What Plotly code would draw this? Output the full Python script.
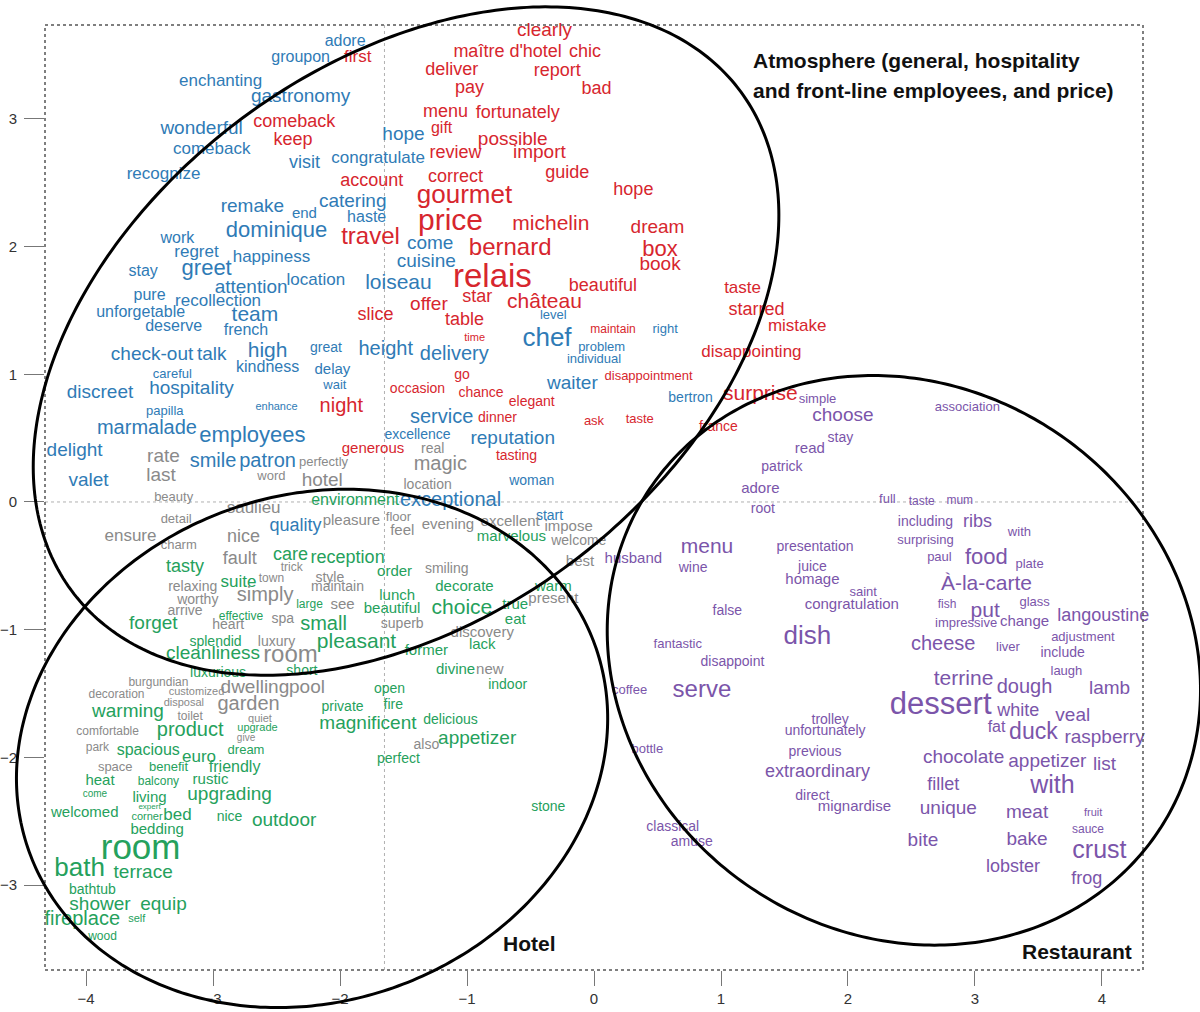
import numpy as np
import plotly.graph_objects as go

# ---------------- data (word, x, y, weight) ----------------
blue_terms = [
    ("adore", -1.96, 3.60, 16), ("groupon", -2.31, 3.48, 16), ("enchanting", -2.94, 3.29, 17),
    ("gastronomy", -2.31, 3.17, 19), ("wonderful", -3.09, 2.92, 19), ("comeback", -3.01, 2.76, 17),
    ("visit", -2.28, 2.65, 18), ("recognize", -3.39, 2.56, 17), ("hope", -1.50, 2.87, 19),
    ("congratulate", -1.70, 2.69, 17), ("remake", -2.69, 2.31, 19), ("end", -2.28, 2.25, 15),
    ("catering", -1.90, 2.35, 19), ("haste", -1.79, 2.22, 16), ("dominique", -2.50, 2.12, 22),
    ("work", -3.28, 2.06, 16), ("regret", -3.13, 1.95, 17), ("happiness", -2.54, 1.91, 17),
    ("come", -1.29, 2.02, 19), ("cuisine", -1.32, 1.88, 19), ("stay", -3.55, 1.80, 16),
    ("greet", -3.05, 1.82, 22), ("location", -2.19, 1.73, 17), ("loiseau", -1.54, 1.71, 21),
    ("attention", -2.70, 1.67, 19), ("pure", -3.50, 1.61, 16), ("recollection", -2.96, 1.57, 17),
    ("unforgetable", -3.57, 1.48, 16), ("team", -2.67, 1.46, 21), ("deserve", -3.31, 1.37, 16),
    ("french", -2.74, 1.34, 16), ("level", -0.32, 1.46, 13), ("right", 0.56, 1.35, 13),
    ("chef", -0.37, 1.27, 26), ("problem", 0.06, 1.21, 13), ("individual", 0.00, 1.11, 13),
    ("check-out", -3.48, 1.15, 19), ("talk", -3.01, 1.15, 19), ("high", -2.57, 1.18, 21),
    ("kindness", -2.57, 1.05, 16), ("great", -2.11, 1.20, 14), ("height", -1.64, 1.19, 20),
    ("delivery", -1.10, 1.15, 20), ("careful", -3.32, 1.00, 13), ("delay", -2.06, 1.03, 15),
    ("wait", -2.04, 0.91, 13), ("waiter", -0.17, 0.92, 19), ("discreet", -3.89, 0.85, 19),
    ("hospitality", -3.17, 0.88, 19), ("papilla", -3.38, 0.71, 13), ("enhance", -2.50, 0.74, 11),
    ("bertron", 0.76, 0.81, 14), ("marmalade", -3.52, 0.57, 20), ("employees", -2.69, 0.51, 22),
    ("service", -1.20, 0.66, 20), ("excellence", -1.39, 0.52, 14), ("reputation", -0.64, 0.49, 19),
    ("delight", -4.09, 0.40, 19), ("smile", -3.00, 0.31, 20), ("patron", -2.57, 0.31, 20),
    ("valet", -3.98, 0.16, 19), ("woman", -0.49, 0.16, 14), ("exceptional", -1.13, 0.01, 20),
    ("quality", -2.35, -0.19, 18), ("start", -0.35, -0.11, 14),
]

red_terms = [
    ("first", -1.86, 3.48, 17), ("clearly", -0.39, 3.69, 19), ("maître d'hotel", -0.68, 3.52, 18),
    ("chic", -0.07, 3.52, 18), ("deliver", -1.12, 3.38, 18), ("report", -0.29, 3.37, 18),
    ("pay", -0.98, 3.24, 18), ("bad", 0.02, 3.23, 18), ("menu", -1.17, 3.05, 18),
    ("fortunately", -0.60, 3.04, 18), ("comeback", -2.36, 2.97, 18), ("keep", -2.37, 2.83, 18),
    ("gift", -1.20, 2.92, 16), ("possible", -0.64, 2.83, 19), ("import", -0.43, 2.73, 19),
    ("review", -1.09, 2.73, 18), ("account", -1.75, 2.51, 18), ("correct", -1.09, 2.54, 18),
    ("guide", -0.21, 2.57, 18), ("hope", 0.31, 2.44, 18), ("gourmet", -1.02, 2.39, 26),
    ("price", -1.13, 2.19, 30), ("michelin", -0.34, 2.17, 21), ("travel", -1.76, 2.07, 24),
    ("bernard", -0.66, 1.98, 24), ("dream", 0.50, 2.14, 19), ("box", 0.52, 1.97, 22),
    ("book", 0.52, 1.85, 19), ("relais", -0.80, 1.75, 33), ("beautiful", 0.07, 1.69, 18),
    ("taste", 1.17, 1.67, 17), ("star", -0.92, 1.60, 18), ("offer", -1.30, 1.54, 19),
    ("château", -0.39, 1.56, 21), ("starred", 1.28, 1.50, 18), ("slice", -1.72, 1.46, 18),
    ("table", -1.02, 1.42, 18), ("maintain", 0.15, 1.35, 12), ("mistake", 1.60, 1.37, 17),
    ("time", -0.94, 1.28, 11), ("disappointing", 1.24, 1.17, 17), ("go", -1.04, 0.99, 14),
    ("occasion", -1.39, 0.88, 14), ("chance", -0.89, 0.85, 14), ("disappointment", 0.43, 0.98, 13),
    ("elegant", -0.49, 0.78, 14), ("night", -1.99, 0.74, 20), ("surprise", 1.31, 0.84, 21),
    ("dinner", -0.76, 0.65, 14), ("ask", 0.00, 0.63, 13), ("taste", 0.36, 0.64, 13),
    ("france", 0.98, 0.58, 14), ("generous", -1.74, 0.41, 15), ("tasting", -0.61, 0.36, 14),
]

gray_terms = [
    ("rate", -3.39, 0.35, 19), ("last", -3.41, 0.20, 19), ("perfectly", -2.13, 0.31, 13),
    ("word", -2.54, 0.20, 13), ("hotel", -2.14, 0.16, 19), ("real", -1.27, 0.41, 14),
    ("magic", -1.21, 0.29, 20), ("location", -1.31, 0.13, 14), ("beauty", -3.31, 0.03, 13),
    ("saulieu", -2.68, -0.05, 17), ("detail", -3.29, -0.14, 13), ("ensure", -3.65, -0.27, 17),
    ("charm", -3.27, -0.34, 13), ("nice", -2.76, -0.28, 18), ("fault", -2.79, -0.45, 18),
    ("trick", -2.38, -0.52, 12), ("relaxing", -3.16, -0.67, 14), ("town", -2.54, -0.60, 12),
    ("simply", -2.59, -0.74, 20), ("worthy", -3.12, -0.77, 14), ("arrive", -3.22, -0.86, 14),
    ("spa", -2.45, -0.92, 14), ("heart", -2.88, -0.97, 14), ("luxury", -2.50, -1.10, 14),
    ("room", -2.39, -1.21, 24), ("pleasure", -1.91, -0.15, 15), ("floor", -1.54, -0.12, 13),
    ("feel", -1.51, -0.23, 15), ("evening", -1.15, -0.18, 15), ("excellent", -0.66, -0.16, 15),
    ("impose", -0.20, -0.20, 15), ("welcome", -0.12, -0.31, 14), ("best", -0.11, -0.47, 15),
    ("smiling", -1.16, -0.53, 14), ("style", -2.08, -0.60, 14), ("maintain", -2.02, -0.67, 14),
    ("present", -0.32, -0.76, 15), ("see", -1.98, -0.81, 15), ("superb", -1.51, -0.96, 14),
    ("discovery", -0.88, -1.03, 15), ("new", -0.82, -1.32, 15), ("burgundian", -3.43, -1.42, 12),
    ("customized", -3.13, -1.49, 11), ("dwelling", -2.67, -1.46, 19), ("pool", -2.26, -1.46, 19),
    ("decoration", -3.76, -1.51, 12), ("disposal", -3.23, -1.58, 11), ("garden", -2.72, -1.59, 20),
    ("toilet", -3.18, -1.68, 12), ("quiet", -2.63, -1.70, 11), ("comfortable", -3.83, -1.80, 12),
    ("give", -2.74, -1.85, 10), ("park", -3.91, -1.93, 12), ("space", -3.77, -2.08, 13),
    ("also", -1.32, -1.91, 14),
]

green_terms = [
    ("environment", -1.88, 0.01, 16), ("care", -2.39, -0.42, 18), ("tasty", -3.22, -0.51, 18),
    ("suite", -2.80, -0.63, 17), ("reception", -1.94, -0.44, 18), ("marvelous", -0.65, -0.28, 15),
    ("order", -1.57, -0.55, 15), ("decorate", -1.02, -0.67, 15), ("warm", -0.32, -0.67, 15),
    ("effective", -2.78, -0.90, 12), ("large", -2.24, -0.81, 12), ("lunch", -1.55, -0.74, 15),
    ("beautiful", -1.59, -0.84, 15), ("choice", -1.04, -0.84, 21), ("true", -0.62, -0.81, 15),
    ("forget", -3.47, -0.96, 19), ("eat", -0.62, -0.93, 15), ("small", -2.13, -0.96, 20),
    ("splendid", -2.98, -1.10, 14), ("cleanliness", -3.00, -1.19, 19), ("pleasant", -1.87, -1.10, 21),
    ("lack", -0.88, -1.12, 15), ("former", -1.32, -1.17, 15), ("divine", -1.09, -1.32, 15),
    ("short", -2.30, -1.33, 14), ("luxurious", -2.96, -1.34, 14), ("indoor", -0.68, -1.44, 14),
    ("open", -1.61, -1.47, 14), ("fire", -1.58, -1.59, 14), ("private", -1.98, -1.61, 14),
    ("warming", -3.67, -1.65, 19), ("product", -3.18, -1.79, 20), ("upgrade", -2.65, -1.77, 11),
    ("magnificent", -1.78, -1.74, 19), ("delicious", -1.13, -1.71, 14), ("appetizer", -0.92, -1.86, 19),
    ("perfect", -1.54, -2.02, 14), ("spacious", -3.51, -1.95, 16), ("euro", -3.11, -2.00, 17),
    ("dream", -2.74, -1.95, 13), ("benefit", -3.35, -2.08, 13), ("friendly", -2.83, -2.08, 16),
    ("heat", -3.89, -2.19, 15), ("balcony", -3.43, -2.19, 12), ("rustic", -3.02, -2.18, 15),
    ("come", -3.93, -2.29, 10), ("living", -3.50, -2.32, 15), ("upgrading", -2.87, -2.30, 19),
    ("expert", -3.50, -2.39, 8), ("welcomed", -4.01, -2.44, 15), ("corner", -3.52, -2.47, 11),
    ("bed", -3.28, -2.46, 17), ("nice", -2.87, -2.47, 14), ("outdoor", -2.44, -2.50, 19),
    ("bedding", -3.44, -2.57, 15), ("room", -3.57, -2.73, 35), ("bath", -4.05, -2.88, 26),
    ("terrace", -3.55, -2.91, 19), ("bathtub", -3.95, -3.04, 14), ("shower", -3.89, -3.16, 19),
    ("equip", -3.39, -3.16, 19), ("fireplace", -4.03, -3.27, 20), ("self", -3.60, -3.27, 11),
    ("wood", -3.87, -3.41, 12), ("stone", -0.36, -2.39, 14),
]

purple_terms = [
    ("simple", 1.76, 0.80, 13), ("choose", 1.96, 0.67, 19), ("association", 2.94, 0.74, 13),
    ("stay", 1.94, 0.50, 14), ("read", 1.70, 0.41, 15), ("patrick", 1.48, 0.27, 14),
    ("adore", 1.31, 0.10, 15), ("full", 2.31, 0.02, 13), ("taste", 2.58, 0.00, 12),
    ("mum", 2.88, 0.01, 12), ("root", 1.33, -0.06, 14), ("including", 2.61, -0.16, 14),
    ("ribs", 3.02, -0.16, 18), ("with", 3.35, -0.24, 13), ("surprising", 2.61, -0.30, 13),
    ("husband", 0.31, -0.45, 15), ("menu", 0.89, -0.36, 21), ("presentation", 1.74, -0.36, 14),
    ("paul", 2.72, -0.44, 13), ("food", 3.09, -0.44, 22), ("plate", 3.43, -0.49, 13),
    ("wine", 0.78, -0.52, 14), ("juice", 1.72, -0.51, 14), ("homage", 1.72, -0.61, 15),
    ("À-la-carte", 3.09, -0.65, 21), ("saint", 2.12, -0.71, 13), ("congratulation", 2.03, -0.81, 15),
    ("fish", 2.78, -0.81, 12), ("put", 3.08, -0.86, 21), ("glass", 3.47, -0.79, 13),
    ("false", 1.05, -0.86, 14), ("impressive", 2.93, -0.95, 13), ("change", 3.39, -0.94, 15),
    ("langoustine", 4.01, -0.90, 18), ("dish", 1.68, -1.06, 26), ("adjustment", 3.85, -1.06, 13),
    ("fantastic", 0.66, -1.12, 13), ("cheese", 2.75, -1.12, 20), ("liver", 3.26, -1.14, 13),
    ("include", 3.69, -1.19, 14), ("disappoint", 1.09, -1.26, 14), ("laugh", 3.72, -1.33, 13),
    ("terrine", 2.91, -1.39, 21), ("dough", 3.39, -1.46, 20), ("lamb", 4.06, -1.47, 19),
    ("coffee", 0.28, -1.48, 13), ("serve", 0.85, -1.48, 24), ("dessert", 2.73, -1.60, 31),
    ("white", 3.34, -1.64, 18), ("trolley", 1.86, -1.71, 14), ("veal", 3.77, -1.68, 19),
    ("unfortunately", 1.82, -1.80, 14), ("fat", 3.17, -1.77, 16), ("duck", 3.46, -1.81, 23),
    ("raspberry", 4.02, -1.85, 19), ("previous", 1.74, -1.96, 14), ("bottle", 0.42, -1.94, 13),
    ("chocolate", 2.91, -2.01, 19), ("appetizer", 3.57, -2.04, 19), ("list", 4.02, -2.06, 19),
    ("extraordinary", 1.76, -2.12, 18), ("fillet", 2.75, -2.22, 18), ("with", 3.61, -2.23, 25),
    ("direct", 1.72, -2.31, 14), ("mignardise", 2.05, -2.39, 15), ("unique", 2.79, -2.41, 19),
    ("meat", 3.41, -2.44, 19), ("fruit", 3.93, -2.44, 11), ("sauce", 3.89, -2.57, 12),
    ("classical", 0.62, -2.55, 14), ("amuse", 0.77, -2.67, 14), ("bite", 2.59, -2.66, 19),
    ("bake", 3.41, -2.65, 19), ("crust", 3.98, -2.74, 25), ("lobster", 3.30, -2.86, 18),
    ("frog", 3.88, -2.96, 18),
]

x_ticks = [-4, -3, -2, -1, 0, 1, 2, 3, 4]
y_ticks = [-3, -2, -1, 0, 1, 2, 3]

# ---------------- style ----------------
X_RANGE = [-4.323, 4.323]
Y_RANGE = [-3.665, 3.735]
FONT = "Arial, Liberation Sans, Arimo, sans-serif"

groups = [
    (blue_terms, "#2f7bb6"),
    (red_terms, "#d7262e"),
    (gray_terms, "#8a8a8a"),
    (green_terms, "#25a15c"),
    (purple_terms, "#7b55aa"),
]

fig = go.Figure()
for terms, color in groups:
    w, xs, ys, sz = zip(*terms)
    fig.add_trace(go.Scatter(
        x=list(xs), y=list(ys), text=list(w), mode="text",
        textposition="middle center",
        textfont=dict(family=FONT, size=list(sz), color=color),
        cliponaxis=False, hoverinfo="text", showlegend=False,
    ))


def to_paper(x, y):
    return ((x - X_RANGE[0]) / (X_RANGE[1] - X_RANGE[0]),
            (y - Y_RANGE[0]) / (Y_RANGE[1] - Y_RANGE[0]))


def ellipse_path(cx, cy, a, b, ang):
    t = np.linspace(0, 2 * np.pi, 361)
    th = np.radians(ang)
    ex = cx + a * np.cos(t) * np.cos(th) - b * np.sin(t) * np.sin(th)
    ey = cy + a * np.cos(t) * np.sin(th) + b * np.sin(t) * np.cos(th)
    px, py = to_paper(ex, ey)
    return "M " + " L ".join(f"{u:.5f},{v:.5f}" for u, v in zip(px, py)) + " Z"


shapes = []
# reference lines
shapes.append(dict(type="line", xref="x", yref="y", x0=X_RANGE[0], x1=X_RANGE[1], y0=0, y1=0,
                   line=dict(color="#b0b0b0", width=1, dash="dot"), layer="below"))
shapes.append(dict(type="line", xref="x", yref="y", x0=-1.65, x1=-1.65, y0=Y_RANGE[0], y1=Y_RANGE[1],
                   line=dict(color="#b0b0b0", width=1, dash="dot"), layer="below"))
# dotted frame
shapes.append(dict(type="rect", xref="paper", yref="paper", x0=0, x1=1, y0=0, y1=1,
                   line=dict(color="#555555", width=1.5, dash="dot")))
# cluster ellipses
for cx, cy, a, b, ang in [(-1.48, 1.26, 3.28, 2.17, 36.5),
                          (-2.22, -1.93, 2.37, 1.98, 20.0),
                          (2.44, -1.24, 2.41, 2.15, -33.0)]:
    shapes.append(dict(type="path", xref="paper", yref="paper", path=ellipse_path(cx, cy, a, b, ang),
                       line=dict(color="#000000", width=3)))

annotations = [
    dict(x=1.24, y=3.46, xref="x", yref="y", text="<b>Atmosphere (general, hospitality</b>",
         showarrow=False, xanchor="left", yanchor="middle", font=dict(family=FONT, size=21, color="#111111")),
    dict(x=1.24, y=3.22, xref="x", yref="y", text="<b>and front-line employees, and price)</b>",
         showarrow=False, xanchor="left", yanchor="middle", font=dict(family=FONT, size=21, color="#111111")),
    dict(x=-0.51, y=-3.46, xref="x", yref="y", text="<b>Hotel</b>",
         showarrow=False, xanchor="center", yanchor="middle", font=dict(family=FONT, size=21, color="#111111")),
    dict(x=3.80, y=-3.52, xref="x", yref="y", text="<b>Restaurant</b>",
         showarrow=False, xanchor="center", yanchor="middle", font=dict(family=FONT, size=21, color="#111111")),
]

fig.update_layout(
    width=1200, height=1012,
    margin=dict(l=45, r=57, t=25, b=42, autoexpand=False),
    paper_bgcolor="white", plot_bgcolor="white",
    shapes=shapes, annotations=annotations,
    xaxis=dict(range=X_RANGE, tickvals=x_ticks, ticks="outside", ticklen=15, tickcolor="#777777",
               showgrid=False, zeroline=False, showline=False, automargin=False,
               tickfont=dict(family=FONT, size=15, color="#333333")),
    yaxis=dict(range=Y_RANGE, tickvals=y_ticks, ticks="outside", ticklen=20, tickcolor="#777777",
               showgrid=False, zeroline=False, showline=False, automargin=False,
               ticklabelstandoff=4,
               tickfont=dict(family=FONT, size=15, color="#333333")),
)

fig.write_html("out.html", config={"displayModeBar": False},
               post_script="document.body.style.margin='0';")
